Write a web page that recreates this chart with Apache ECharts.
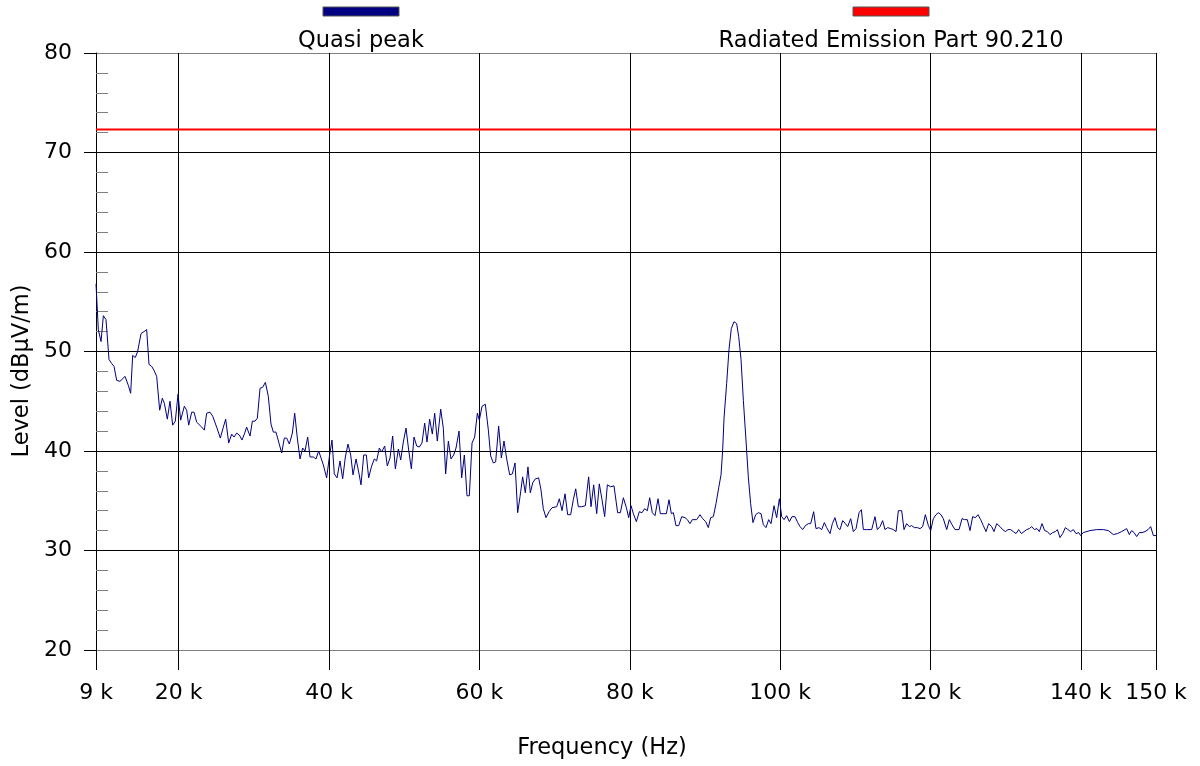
<!DOCTYPE html>
<html><head><meta charset="utf-8">
<script src="https://cdn.jsdelivr.net/npm/echarts@6/dist/echarts.min.js"></script>
<style>html,body{margin:0;padding:0;background:#fff}#c{width:1200px;height:766px}</style>
</head><body><div id="c"></div>
<script>
// ---- data ----
const xTickKHz = [9, 20, 40, 60, 80, 100, 120, 140, 150];
const yMin = 20, yMax = 80, yStep = 10;
const seriesNames = ['Quasi peak', 'Radiated Emission Part 90.210'];
const xTitle = 'Frequency (Hz)';
const yTitle = 'Level (dBµV/m)';
const limitDb = 72.3;

const freqKHz = [
  9.00,9.31,9.67,9.98,10.33,10.73,11.08,11.40,11.75,12.19,12.86,13.30,13.61,13.88,14.23,14.54,14.99,15.39,15.74,16.05,
  16.41,16.72,17.07,17.47,17.82,18.09,18.49,18.84,19.20,19.55,19.91,20.26,20.75,21.06,21.33,21.73,22.04,22.39,23.06,23.41,
  23.72,24.16,24.52,25.05,25.54,25.94,26.25,26.65,27.05,27.36,27.71,28.07,28.42,28.78,29.04,29.49,29.80,30.15,30.46,30.82,
  31.17,31.53,31.92,32.28,32.59,32.94,33.34,33.70,34.05,34.36,34.72,35.12,35.43,35.78,
  36.14,36.49,36.80,37.16,37.47,37.91,38.26,38.62,38.89,39.24,39.68,40.04,40.39,40.70,41.06,41.46,41.81,42.17,42.52,42.88,
  43.19,43.59,43.94,44.25,44.61,44.96,45.27,45.63,46.02,46.33,46.69,47.00,47.40,47.75,48.11,48.46,48.82,49.22,49.53,49.88,
  50.24,50.59,50.95,51.30,51.66,52.01,52.36,52.72,53.03,53.38,53.74,54.05,54.40,54.85,55.20,55.51,55.87,56.22,56.58,56.89,
  57.29,57.64,58.00,58.35,58.66,59.02,59.37,59.73,59.99,
  60.35,60.79,61.19,61.50,61.85,62.16,62.56,62.92,63.27,63.63,64.03,64.38,64.74,65.09,65.40,65.75,66.11,66.46,66.77,67.09,
  67.44,67.88,68.19,68.50,68.86,69.26,69.66,70.28,70.63,70.99,71.39,71.74,72.14,72.49,72.81,73.16,73.60,74.09,74.53,74.85,
  75.20,75.60,75.95,76.31,76.66,77.02,77.46,77.90,78.39,78.75,79.15,79.55,79.86,80.17,80.48,80.88,81.27,81.63,81.98,82.34,
  82.65,83.00,83.36,83.76,84.07,84.55,84.87,85.22,85.53,85.80,86.15,86.51,
  86.91,87.35,87.66,88.01,88.32,88.90,89.34,89.70,90.10,90.45,90.76,91.12,91.47,91.83,92.14,92.36,92.54,92.89,93.20,93.51,
  93.87,94.22,94.49,94.80,95.11,95.46,95.77,96.08,96.39,96.75,97.10,97.46,97.77,98.12,98.48,98.79,99.19,99.54,99.90,100.21,
  100.52,100.87,101.23,101.58,101.98,102.34,102.65,103.00,103.36,103.75,104.07,104.46,104.77,105.17,105.53,105.88,106.19,106.64,106.95,107.30,
  107.66,107.97,108.32,108.68,108.99,109.39,109.74,110.10,110.50,110.81,
  111.07,111.51,112.18,112.62,112.93,113.29,113.64,113.95,114.31,114.71,115.06,115.42,115.73,116.17,116.48,116.83,117.19,117.50,117.85,118.25,
  118.61,118.96,119.32,119.72,120.03,120.38,120.74,121.05,121.40,121.71,122.16,122.51,122.86,123.26,123.80,124.20,124.55,124.90,125.26,125.61,
  125.97,126.32,126.68,127.03,127.39,127.74,128.14,128.45,128.81,129.25,129.60,129.96,130.31,130.67,131.02,131.38,131.73,132.09,132.35,132.80,
  133.15,133.46,133.82,134.17,134.48,134.84,135.19,135.55,135.90,136.26,136.61,136.88,137.23,137.59,137.94,138.29,138.65,139.00,139.36,139.71,
  139.98,140.33,141.22,142.11,143.00,143.66,144.33,144.86,145.43,146.10,146.45,146.76,147.08,147.43,147.78,148.14,148.54,148.94,149.29,149.65,
  150.00
];

const quasiPeakDb = [
  56.8,52.2,51.0,53.6,53.2,49.2,48.8,48.5,47.1,47.0,47.5,46.6,45.8,49.6,49.4,50.0,51.8,52.0,52.2,48.7,
  48.5,48.1,47.5,44.1,45.3,44.8,43.2,45.0,42.6,43.0,45.7,43.1,44.5,44.1,42.6,43.9,43.9,42.9,42.4,42.1,
  43.8,43.9,43.5,42.4,41.3,42.4,43.2,40.8,41.7,41.4,41.8,41.6,41.1,41.8,42.4,41.5,43.0,43.0,43.3,46.3,
  46.4,46.9,45.5,42.7,41.9,41.9,40.8,39.8,41.3,41.3,40.7,41.8,43.8,41.3,
  39.2,40.3,40.0,41.4,39.4,39.4,39.2,40.0,39.4,38.6,37.3,39.4,41.1,37.7,37.3,39.0,37.2,39.4,40.7,39.6,
  37.6,39.2,37.9,36.6,39.6,39.6,37.3,38.4,39.2,39.0,40.3,39.9,40.5,38.5,39.3,41.5,38.2,40.2,39.1,40.9,
  42.3,40.1,38.2,41.4,40.5,40.4,40.8,42.8,40.9,43.2,41.7,43.8,41.0,44.2,42.3,37.7,41.0,39.2,39.6,40.3,
  42.0,37.3,39.6,35.5,35.5,40.8,41.4,43.8,43.1,
  44.5,44.7,42.1,39.5,38.8,38.9,42.5,39.3,41.0,39.2,37.6,37.7,38.8,33.8,35.4,37.4,35.8,38.4,35.8,36.8,
  37.2,37.3,36.1,34.2,33.3,33.9,34.3,34.4,35.2,34.0,35.7,33.6,33.6,35.1,36.2,34.4,34.4,34.5,37.4,34.4,
  36.6,33.7,36.7,35.1,33.4,36.6,36.4,36.5,33.8,33.8,35.3,34.3,33.3,34.5,33.7,32.9,33.9,33.8,34.2,34.0,
  35.3,33.8,33.5,35.2,33.7,33.7,33.7,35.1,33.7,33.8,32.5,32.5,
  33.4,33.3,33.1,32.7,33.1,33.1,33.6,33.2,32.9,32.3,33.3,33.4,34.7,36.3,37.6,40.1,43.3,46.8,50.2,52.3,
  53.0,52.8,51.5,49.2,45.1,41.1,37.4,34.7,32.8,33.6,33.8,33.7,32.6,32.3,33.1,32.7,34.5,33.3,35.2,33.4,
  33.1,33.5,32.9,33.4,33.4,32.8,32.4,32.1,32.5,32.7,32.7,33.9,32.2,32.3,32.1,32.8,32.3,31.7,32.7,33.3,
  32.3,32.1,33.0,32.7,32.4,33.2,31.9,32.2,33.8,34.1,
  32.1,32.1,32.1,33.4,32.1,32.4,33.0,32.1,32.3,32.2,32.1,31.9,34.0,34.0,32.1,32.7,32.4,32.5,32.3,32.3,
  32.2,32.4,33.6,32.5,32.0,33.2,33.6,33.8,33.6,33.2,32.1,33.1,32.6,32.1,32.1,33.2,33.1,33.1,32.0,33.4,
  33.3,33.6,33.1,32.5,31.9,32.7,32.4,31.9,32.7,32.4,32.1,31.9,32.1,32.1,31.9,31.7,32.1,31.7,31.6,32.1,
  32.2,32.4,32.1,32.2,31.9,32.7,32.0,31.9,31.6,31.8,31.9,32.1,31.3,31.7,32.3,32.1,31.9,32.1,31.7,31.8,
  31.5,31.8,32.0,32.1,32.1,32.0,31.6,31.7,31.9,32.2,31.6,32.0,31.8,31.4,31.8,31.8,31.9,32.1,32.4,31.5,
  31.5
];

// ---- chart ----
const FONT = 'DejaVu Sans';
const TICK_FS = 22, TITLE_FS = 22.5;
const n = Math.min(freqKHz.length, quasiPeakDb.length);
const qpData = [];
for (let i = 0; i < n; i++) qpData.push([freqKHz[i] * 1000, quasiPeakDb[i]]);
const tickValues = xTickKHz.map(v => v * 1000);
const xMin = tickValues[0], xMax = tickValues[tickValues.length - 1];
const limitData = [[xMin, limitDb], [xMax, limitDb]];
const titleFont = TITLE_FS + 'px "DejaVu Sans"';

const chart = echarts.init(document.getElementById('c'), null, {renderer: 'canvas'});
const option = {
  animation: false,
  backgroundColor: '#ffffff',
  textStyle: {fontFamily: FONT},
  grid: {left: 96, right: 44, top: 53, bottom: 116, containLabel: false},
  xAxis: {
    type: 'value', min: xMin, max: xMax,
    axisLine: {show: true, onZero: false, lineStyle: {color: '#808080', width: 1}},
    axisTick: {show: true, customValues: tickValues, length: 20, lineStyle: {color: '#000', width: 1}},
    axisLabel: {customValues: tickValues, formatter: v => (v / 1000) + ' k', fontSize: TICK_FS,
      color: '#000', margin: 32, fontFamily: FONT},
    splitLine: {show: true, lineStyle: {color: '#000', width: 1}}
  },
  yAxis: [
    {
      type: 'value', min: yMin, max: yMax, interval: yStep,
      axisLine: {show: true, lineStyle: {color: '#000', width: 1}},
      axisTick: {show: true, length: 12, lineStyle: {color: '#000', width: 1}},
      axisLabel: {fontSize: TICK_FS, color: '#000', margin: 24, fontFamily: FONT},
      splitLine: {show: true, lineStyle: {color: ['#808080', '#000', '#000', '#000', '#000', '#000', '#808080'], width: 1}}
    },
    {
      type: 'value', min: yMin, max: yMax, interval: yStep, position: 'left',
      axisLine: {show: false}, axisTick: {show: false, inside: true},
      axisLabel: {show: false}, splitLine: {show: false},
      minorTick: {show: true, splitNumber: 5, length: 12, lineStyle: {color: '#808080', width: 1}}
    }
  ],
  series: [
    {name: seriesNames[0], type: 'line', data: qpData, symbol: 'none', showSymbol: false,
     lineStyle: {color: '#000080', width: 1}, itemStyle: {color: '#000080'}, z: 3},
    {name: seriesNames[1], type: 'line', data: limitData, symbol: 'none', showSymbol: false,
     lineStyle: {color: '#ff0000', width: 2}, itemStyle: {color: '#ff0000'}, z: 4}
  ],
  graphic: [
    {type: 'rect', shape: {x: 323, y: 7, width: 76, height: 9},
     style: {fill: '#000080', stroke: '#555', lineWidth: 1}},
    {type: 'text', x: 361, y: 41, style: {text: seriesNames[0], fill: '#000',
      font: titleFont, align: 'center', verticalAlign: 'middle'}},
    {type: 'rect', shape: {x: 853, y: 7, width: 76, height: 9},
     style: {fill: '#ff0000', stroke: '#555', lineWidth: 1}},
    {type: 'text', x: 891, y: 41, style: {text: seriesNames[1], fill: '#000',
      font: titleFont, align: 'center', verticalAlign: 'middle'}},
    {type: 'text', x: 22, y: 371, rotation: Math.PI / 2, style: {text: yTitle, fill: '#000',
      font: titleFont, align: 'center', verticalAlign: 'middle'}},
    {type: 'text', x: 602, y: 748, style: {text: xTitle, fill: '#000',
      font: titleFont, align: 'center', verticalAlign: 'middle'}}
  ]
};
chart.setOption(option);
</script>
</body></html>
